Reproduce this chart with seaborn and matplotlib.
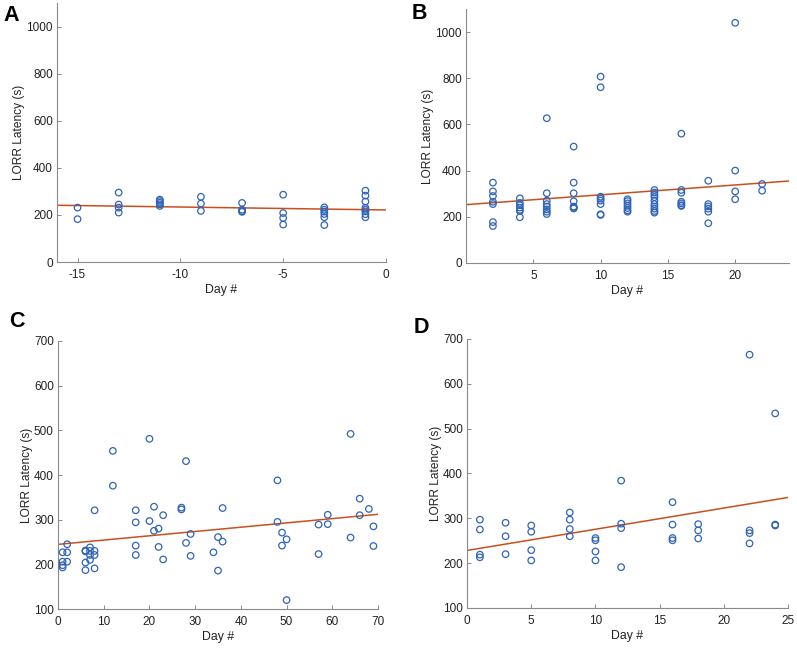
import matplotlib
matplotlib.use("Agg")
import matplotlib.pyplot as plt
import seaborn as sns
import pandas as pd

# Panel A: days before, grouped by day
days_a = [-15, -13, -11, -9, -7, -5, -3, -1]
lat_a = [
    [231, 182],
    [295, 244, 231, 210],
    [265, 259, 252, 245, 238],
    [277, 248, 217],
    [251, 222, 216, 213],
    [286, 208, 187, 159],
    [232, 222, 214, 204, 190, 157],
    [303, 282, 257, 230, 222, 215, 203, 190],
]

# Panel B
days_b = [2, 4, 6, 8, 10, 12, 14, 16, 18, 20, 22]
lat_b = [
    [348, 310, 290, 265, 255, 177, 160],
    [280, 260, 250, 240, 230, 225, 198],
    [627, 302, 270, 255, 244, 232, 222, 212],
    [504, 348, 302, 267, 244, 240, 236],
    [807, 761, 287, 278, 270, 255, 211, 208],
    [276, 268, 258, 248, 238, 228, 222],
    [316, 305, 295, 285, 270, 255, 245, 235, 225, 218],
    [560, 316, 304, 265, 258, 250, 247],
    [356, 255, 245, 235, 222, 172],
    [1040, 400, 310, 276],
    [342, 313],
]

# Panel C
days_c = [1, 1, 1, 1, 2, 2, 2, 6, 6, 6, 6, 7, 7, 7, 7, 8, 8, 8, 8, 12, 12,
          17, 17, 17, 17, 20, 20, 21, 21, 22, 22, 23, 23, 27, 27, 28, 28,
          29, 29, 34, 35, 35, 36, 36, 48, 48, 49, 49, 50, 50, 57, 57, 59, 59,
          64, 64, 66, 66, 68, 69, 69]
lat_c = [227, 206, 198, 193, 245, 227, 206, 231, 229, 204, 187, 238, 230, 221,
         210, 321, 230, 221, 191, 454, 376, 321, 294, 242, 221, 481, 297, 329,
         275, 280, 239, 310, 211, 327, 323, 431, 248, 268, 219, 227, 261, 186,
         326, 251, 388, 295, 271, 242, 256, 120, 289, 223, 311, 290, 492, 260,
         347, 310, 324, 285, 241]

# Panel D
days_d = [1, 1, 1, 1, 3, 3, 3, 5, 5, 5, 5, 8, 8, 8, 8, 10, 10, 10, 10,
          12, 12, 12, 12, 16, 16, 16, 16, 18, 18, 18, 22, 22, 22, 22, 24, 24, 24]
lat_d = [297, 275, 219, 213, 290, 260, 220, 284, 270, 229, 206, 313, 297, 276,
         260, 256, 251, 226, 206, 384, 288, 278, 191, 336, 286, 256, 251, 287,
         273, 255, 665, 273, 267, 244, 534, 286, 284]


def grouped_df(days, groups):
    rows = [(d, v) for d, g in zip(days, groups) for v in g]
    return pd.DataFrame(rows, columns=["day", "lorr"])


df_a = grouped_df(days_a, lat_a)
df_b = grouped_df(days_b, lat_b)
df_c = pd.DataFrame({"day": days_c, "lorr": lat_c})
df_d = pd.DataFrame({"day": days_d, "lorr": lat_d})

sns.set_style("ticks")
plt.rcParams["font.family"] = ["Liberation Sans", "DejaVu Sans"]
plt.rcParams["axes.unicode_minus"] = False

blue = "#2f64b8"
orange = "#c8501f"
axis_gray = "#8a8a8a"
text_col = "#222222"

fig = plt.figure(figsize=(7.97, 6.49), dpi=100)

panels = [
    ("A", df_a, [0.0715, 0.5963, 0.4128, 0.399], (-16, 0), (0, 1100),
     [-15, -10, -5, 0], [0, 200, 400, 600, 800, 1000], (0.004, 0.993)),
    ("B", df_b, [0.5847, 0.5948, 0.4053, 0.3914], (0, 24), (0, 1100),
     [5, 10, 15, 20], [0, 200, 400, 600, 800, 1000], (0.517, 0.996)),
    ("C", df_c, [0.0728, 0.0616, 0.4015, 0.413], (0, 70), (100, 700),
     [0, 10, 20, 30, 40, 50, 60, 70], [100, 200, 300, 400, 500, 600, 700], (0.012, 0.521)),
    ("D", df_d, [0.586, 0.0632, 0.4028, 0.4145], (0, 25), (100, 700),
     [0, 5, 10, 15, 20, 25], [100, 200, 300, 400, 500, 600, 700], (0.519, 0.511)),
]

for letter, df, rect, xlim, ylim, xt, yt, lpos in panels:
    ax = fig.add_axes(rect)
    ax.set_xlim(*xlim)
    ax.set_ylim(*ylim)
    sns.regplot(data=df, x="day", y="lorr", ax=ax, scatter=False, ci=None,
                truncate=False, color=orange, line_kws={"linewidth": 1.1})
    sns.scatterplot(data=df, x="day", y="lorr", ax=ax, marker="o", s=22,
                    facecolor="none", edgecolor=blue, linewidth=0.9, zorder=3)
    ax.set_xlim(*xlim)
    ax.set_ylim(*ylim)
    ax.set_xticks(xt)
    ax.set_yticks(yt)
    ax.set_xlabel("Day #", fontsize=8.8, color=text_col, labelpad=2)
    ax.set_ylabel("LORR Latency (s)", fontsize=8.6, color=text_col, labelpad=1)
    ax.tick_params(direction="in", length=3, width=0.7, colors=axis_gray,
                   labelcolor=text_col, labelsize=8.5)
    ax.tick_params(axis="x", pad=5)
    ax.tick_params(axis="y", pad=3)
    sns.despine(ax=ax)
    for side in ["left", "bottom"]:
        ax.spines[side].set_color(axis_gray)
        ax.spines[side].set_linewidth(0.8)
    fig.text(lpos[0], lpos[1], letter, fontsize=15.5, fontweight="bold",
             ha="left", va="top", color="black")

fig.savefig("out.png", dpi=100)
